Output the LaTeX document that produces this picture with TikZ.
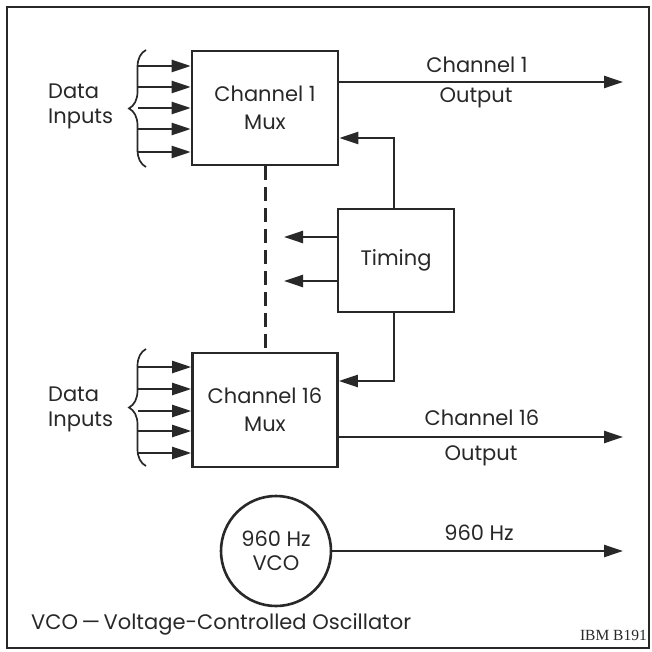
\documentclass[tikz,border=0pt]{standalone}
\usepackage{fontspec}
\setmainfont{Poppins}
\newfontfamily\smallserif{Liberation Serif}
\usetikzlibrary{arrows.meta,decorations.pathreplacing}
\definecolor{ink}{RGB}{40,40,40}
\begin{document}
\begin{tikzpicture}[x=1pt,y=-1pt,line width=2.4pt,draw=ink,text=ink,
  font=\fontsize{21}{25}\selectfont,
  box/.style={draw,rectangle,line width=2.6pt,align=center,font=\fontsize{21}{28}\selectfont},
  arr/.style={-{Triangle[length=19pt,width=12pt]}},
  lbl/.style={inner sep=0pt,font=\fontsize{21}{25}\selectfont},
  bracestyle/.style={decorate,decoration={brace,amplitude=17pt},line width=1.7pt}]
\useasboundingbox (0,0) rectangle (651,652);
\draw[line width=2pt] (7,7) rectangle (649,648);
% boxes
\node[box,minimum width=146,minimum height=114] (mux1) at (265,108) {Channel 1\\Mux};
\node[box,minimum width=145,minimum height=114] (mux16) at (265,410) {Channel 16\\Mux};
\node[box,minimum width=116,minimum height=103] (timing) at (396,260.5) {Timing};
\node[draw,circle,line width=2.6pt,minimum size=110,inner sep=0pt,align=center,
  font=\fontsize{21}{24}\selectfont] (vco) at (276,551) {960 Hz\\VCO};
% inputs to mux1
\foreach \y [count=\i] in {66,87,108,129,152}{
  \coordinate (a\i) at (138,\y);
  \draw[arr] (a\i) -- (a\i -| mux1.west);
}
\foreach \y [count=\i] in {367,389,411,431,453}{
  \coordinate (b\i) at (138,\y);
  \draw[arr] (b\i) -- (b\i -| mux16.west);
}
\coordinate (br1t) at (146,50);
\coordinate (br1b) at (146,167);
\coordinate (br2t) at (146,349);
\coordinate (br2b) at (146,466);
\draw[bracestyle] (br1b) -- (br1t);
\draw[bracestyle] (br2b) -- (br2t);
\node[lbl,anchor=west,align=left] (din1) at (47,106) {Data\\Inputs};
\node[lbl,anchor=west,align=left] (din2) at (47,409) {Data\\Inputs};
% outputs
\coordinate (o1) at (623,82);
\draw[arr] (o1 -| mux1.east) -- (o1);
\node[lbl] (o1a) at (477,65) {Channel 1};
\node[lbl] (o1b) at (476,98) {Output};
\coordinate (o16) at (623,437);
\draw[arr] (o16 -| mux16.east) -- (o16);
\node[lbl] (o16a) at (482,418) {Channel 16};
\node[lbl] (o16b) at (481,456) {Output};
\coordinate (ov) at (623,551);
\draw[arr] (vco.east) -- (ov);
\node[lbl] (ova) at (479,533) {960 Hz};
% timing connections
\coordinate (f1) at (394,138);
\coordinate (f16) at (394,381);
\draw[arr] (timing.north -| f1) |- (f1 -| mux1.east);
\draw[arr] (timing.south -| f16) |- (f16 -| mux16.east);
\coordinate (t1) at (284,237);
\coordinate (t2) at (284,281);
\draw[arr] (t1 -| timing.west) -- (t1);
\draw[arr] (t2 -| timing.west) -- (t2);
\draw[line width=3pt,dash pattern=on 14pt off 7pt] (mux1.south) -- (mux16.north);
% notes
\node[lbl,anchor=west] (note) at (30,624) {VCO\,—\,Voltage-Controlled Oscillator};
\node[inner sep=0pt,anchor=east,font=\smallserif\fontsize{15.5}{17}\selectfont] (ibm) at (648,635) {IBM B191};
\end{tikzpicture}
\end{document}
